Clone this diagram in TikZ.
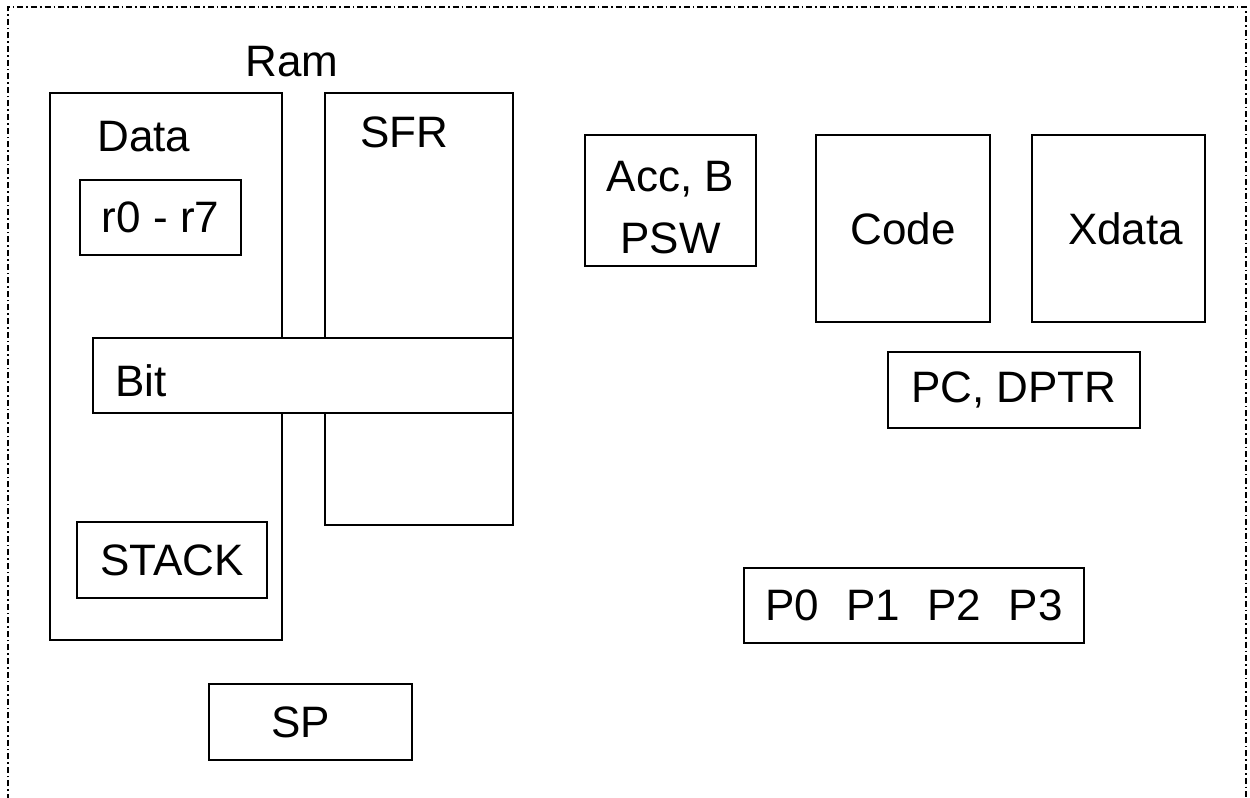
\documentclass[tikz,border=0pt]{standalone}
\usepackage{fontspec}
\setmainfont{Liberation Sans}

\tikzset{
  box/.style={draw=black, line width=1.1pt, fill=white, inner sep=0pt},
  txt/.style={font=\fontsize{22}{31}\selectfont, inner sep=0pt, align=center},
  frame/.style={line width=0.7pt, dash pattern=on 3pt off 1.5pt on 0.8pt off 1.5pt}
}

\begin{document}
\begin{tikzpicture}[x=0.5pt,y=-0.5pt]
\useasboundingbox (0,0) rectangle (1250,798);
% outer frame, open at the bottom
\coordinate (fbl) at (8,800);
\coordinate (ftl) at (8,7);
\coordinate (ftr) at (1246,7);
\coordinate (fbr) at (1246,800);
\draw[frame] (fbl) -- (ftl) -- (ftr) -- (fbr);

% ram
\node[txt, anchor=west] (ram) at (245,62) {Ram};
\node[box, minimum width=116pt, minimum height=273.5pt] (data) at (166,366.5) {};
\node[box, minimum width=94pt, minimum height=216pt] (sfr) at (419,309) {};
\node[box, minimum width=210pt, minimum height=37.5pt] (bit) at (303,375.5) {};
\node[txt, anchor=west] (datalbl) at (97,137) {Data};
\node[txt, anchor=west] (sfrlbl) at (360,132) {SFR};
\node[txt, anchor=west] (bitlbl) at (115,381) {Bit};
\node[box, txt, minimum width=80.5pt, minimum height=37.5pt] (regs) at (160.5,217.5) {r0 - r7};
\node[box, txt, minimum width=95pt, minimum height=38pt] (stack) at (172,560) {STACK};
\node[box, txt, minimum width=101.5pt, minimum height=38pt] (sp) at (310.5,722) {SP\hspace*{10pt}};

% cpu registers
\node[box, minimum width=85.5pt, minimum height=65.5pt] (acc) at (670.5,200.5) {};
\node[txt] (acclbl) at (670.5,208) {Acc, B\\PSW};
\node[box, txt, minimum width=87pt, minimum height=93.5pt] (code) at (903,228.5) {Code};
\node[box, txt, minimum width=86.5pt, minimum height=93.5pt] (xdata) at (1118.5,228.5) {\hspace*{7pt}Xdata};
\node[box, txt, minimum width=126pt, minimum height=38pt] (pc) at (1014,390) {PC, DPTR};
\node[box, txt, minimum width=170pt, minimum height=37.5pt] (ports) at (914,605.5) {P0\hspace{0.62em}P1\hspace{0.62em}P2\hspace{0.62em}P3};
\end{tikzpicture}
\end{document}
